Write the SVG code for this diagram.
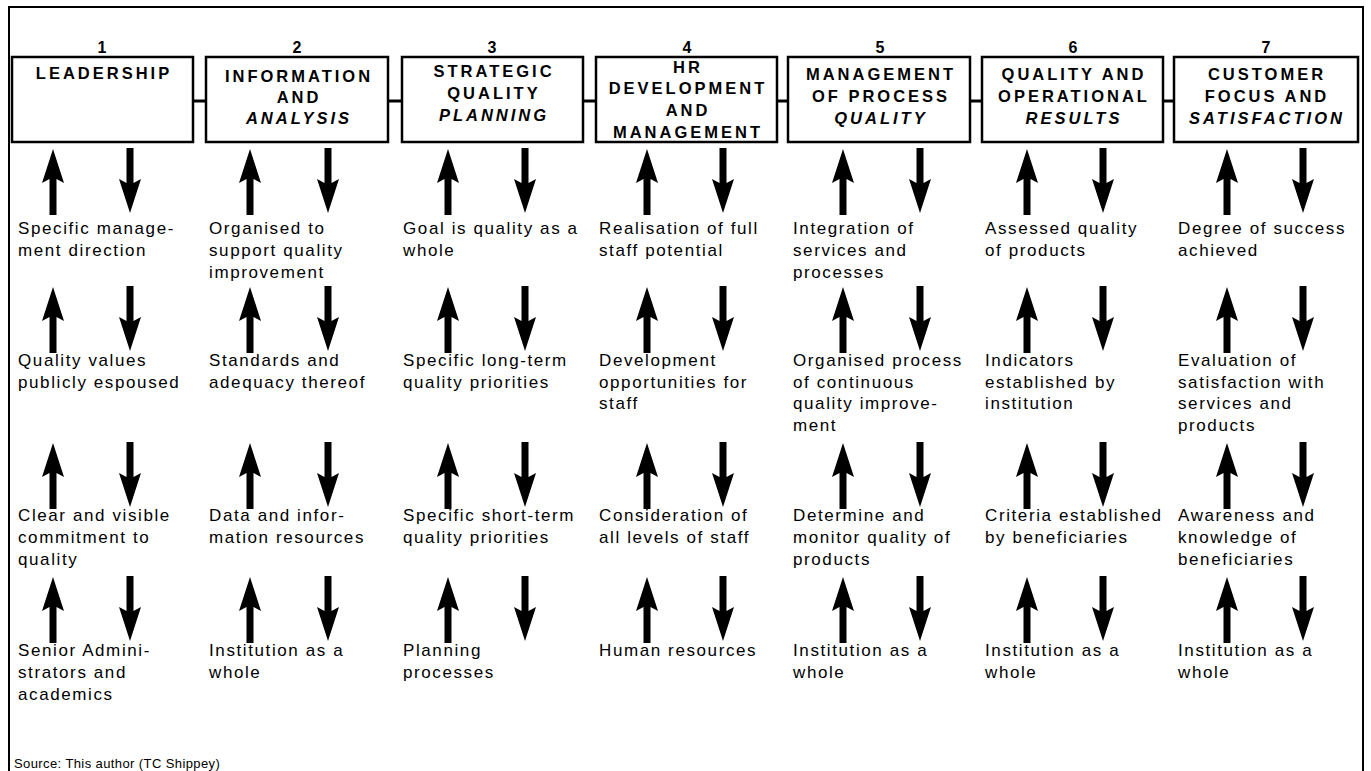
<svg xmlns="http://www.w3.org/2000/svg" xmlns:xlink="http://www.w3.org/1999/xlink" width="1371" height="771" viewBox="0 0 1371 771">
  <style>
    .frame { fill: none; stroke: #000; stroke-width: 2; }
    .box { fill: #fff; stroke: #000; stroke-width: 2.5; }
    .link { stroke: #000; stroke-width: 3; }
    .num { font-family: "Liberation Sans", Arial, sans-serif; font-weight: bold; font-size: 16px; text-anchor: middle; fill: #000; }
    .head { font-family: "Liberation Sans", Arial, sans-serif; font-weight: bold; font-size: 16.5px; letter-spacing: 3px; text-anchor: middle; fill: #000; }
    .it { font-style: italic; }
    .body { font-family: "Liberation Sans", Arial, sans-serif; font-size: 17px; letter-spacing: 1.6px; fill: #000; }
    .src { font-family: "Liberation Sans", Arial, sans-serif; font-size: 13px; letter-spacing: 0.4px; fill: #000; }
    .arr { fill: #000; }
  </style>
  <defs>
    <!-- upward arrow, tip at origin -->
    <path id="up" class="arr" d="M0,0 L11,34 L3.5,30 L3.5,66 L-3.5,66 L-3.5,30 L-11,34 Z"/>
    <!-- downward arrow, shaft top at origin -->
    <path id="down" class="arr" d="M-3.5,0 L3.5,0 L3.5,35 L11,31 L0,65 L-11,31 L-3.5,35 Z"/>
  </defs>

  <rect width="1371" height="771" fill="#fff"/>

  <!-- outer frame (open at the bottom) -->
  <path class="frame" d="M9,771 L9,7 L1363,7 L1363,771"/>

  <!-- links between the criterion boxes and the flow arrows -->
  <g id="connectors">
    <line class="link" x1="193" y1="101" x2="206" y2="101"/>
    <line class="link" x1="388" y1="101" x2="402" y2="101"/>
    <line class="link" x1="583" y1="101" x2="596" y2="101"/>
    <line class="link" x1="777" y1="101" x2="788" y2="101"/>
    <line class="link" x1="970" y1="101" x2="982" y2="101"/>
    <line class="link" x1="1163" y1="101" x2="1174" y2="101"/>

    <g id="arrows-col1">
      <use xlink:href="#up" x="53" y="149"/><use xlink:href="#down" x="130" y="148"/>
      <use xlink:href="#up" x="53" y="287"/><use xlink:href="#down" x="130" y="286"/>
      <use xlink:href="#up" x="53" y="443"/><use xlink:href="#down" x="130" y="442"/>
      <use xlink:href="#up" x="53" y="577"/><use xlink:href="#down" x="130" y="576"/>
    </g>
    <g id="arrows-col2">
      <use xlink:href="#up" x="250" y="149"/><use xlink:href="#down" x="328" y="148"/>
      <use xlink:href="#up" x="250" y="287"/><use xlink:href="#down" x="328" y="286"/>
      <use xlink:href="#up" x="250" y="443"/><use xlink:href="#down" x="328" y="442"/>
      <use xlink:href="#up" x="250" y="577"/><use xlink:href="#down" x="328" y="576"/>
    </g>
    <g id="arrows-col3">
      <use xlink:href="#up" x="448" y="149"/><use xlink:href="#down" x="525" y="148"/>
      <use xlink:href="#up" x="448" y="287"/><use xlink:href="#down" x="525" y="286"/>
      <use xlink:href="#up" x="448" y="443"/><use xlink:href="#down" x="525" y="442"/>
      <use xlink:href="#up" x="448" y="577"/><use xlink:href="#down" x="525" y="576"/>
    </g>
    <g id="arrows-col4">
      <use xlink:href="#up" x="647" y="149"/><use xlink:href="#down" x="723" y="148"/>
      <use xlink:href="#up" x="647" y="287"/><use xlink:href="#down" x="723" y="286"/>
      <use xlink:href="#up" x="647" y="443"/><use xlink:href="#down" x="723" y="442"/>
      <use xlink:href="#up" x="647" y="577"/><use xlink:href="#down" x="723" y="576"/>
    </g>
    <g id="arrows-col5">
      <use xlink:href="#up" x="843" y="149"/><use xlink:href="#down" x="920" y="148"/>
      <use xlink:href="#up" x="843" y="287"/><use xlink:href="#down" x="920" y="286"/>
      <use xlink:href="#up" x="843" y="443"/><use xlink:href="#down" x="920" y="442"/>
      <use xlink:href="#up" x="843" y="577"/><use xlink:href="#down" x="920" y="576"/>
    </g>
    <g id="arrows-col6">
      <use xlink:href="#up" x="1027" y="149"/><use xlink:href="#down" x="1103" y="148"/>
      <use xlink:href="#up" x="1027" y="287"/><use xlink:href="#down" x="1103" y="286"/>
      <use xlink:href="#up" x="1027" y="443"/><use xlink:href="#down" x="1103" y="442"/>
      <use xlink:href="#up" x="1027" y="577"/><use xlink:href="#down" x="1103" y="576"/>
    </g>
    <g id="arrows-col7">
      <use xlink:href="#up" x="1227" y="149"/><use xlink:href="#down" x="1303" y="148"/>
      <use xlink:href="#up" x="1227" y="287"/><use xlink:href="#down" x="1303" y="286"/>
      <use xlink:href="#up" x="1227" y="443"/><use xlink:href="#down" x="1303" y="442"/>
      <use xlink:href="#up" x="1227" y="577"/><use xlink:href="#down" x="1303" y="576"/>
    </g>
  </g>

  <!-- 1 Leadership -->
  <g id="leadership">
    <text class="num" x="102" y="53">1</text>
    <rect class="box" x="12" y="57" width="181" height="85"/>
    <text class="head" x="104" y="79">LEADERSHIP</text>
    <text class="body" x="18" y="234">Specific manage-<tspan x="18" y="256">ment direction</tspan></text>
    <text class="body" x="18" y="366">Quality values<tspan x="18" y="388">publicly espoused</tspan></text>
    <text class="body" x="18" y="521">Clear and visible<tspan x="18" y="543">commitment to</tspan><tspan x="18" y="565">quality</tspan></text>
    <text class="body" x="18" y="656">Senior Admini-<tspan x="18" y="678">strators and</tspan><tspan x="18" y="700">academics</tspan></text>
  </g>

  <!-- 2 Information and analysis -->
  <g id="information-analysis">
    <text class="num" x="297" y="53">2</text>
    <rect class="box" x="206" y="57" width="182" height="85"/>
    <text class="head" x="299" y="82">INFORMATION</text>
    <text class="head" x="299" y="103">AND</text>
    <text class="head it" x="299" y="124">ANALYSIS</text>
    <text class="body" x="209" y="234">Organised to<tspan x="209" y="256">support quality</tspan><tspan x="209" y="278">improvement</tspan></text>
    <text class="body" x="209" y="366">Standards and<tspan x="209" y="388">adequacy thereof</tspan></text>
    <text class="body" x="209" y="521">Data and infor-<tspan x="209" y="543">mation resources</tspan></text>
    <text class="body" x="209" y="656">Institution as a<tspan x="209" y="678">whole</tspan></text>
  </g>

  <!-- 3 Strategic quality planning -->
  <g id="strategic-planning">
    <text class="num" x="492" y="53">3</text>
    <rect class="box" x="402" y="57" width="181" height="85"/>
    <text class="head" x="494" y="77">STRATEGIC</text>
    <text class="head" x="494" y="99">QUALITY</text>
    <text class="head it" x="494" y="121">PLANNING</text>
    <text class="body" x="403" y="234">Goal is quality as a<tspan x="403" y="256">whole</tspan></text>
    <text class="body" x="403" y="366">Specific long-term<tspan x="403" y="388">quality priorities</tspan></text>
    <text class="body" x="403" y="521">Specific short-term<tspan x="403" y="543">quality priorities</tspan></text>
    <text class="body" x="403" y="656">Planning<tspan x="403" y="678">processes</tspan></text>
  </g>

  <!-- 4 HR development and management -->
  <g id="hr-development">
    <text class="num" x="687" y="53">4</text>
    <rect class="box" x="596" y="57" width="181" height="85"/>
    <text class="head" x="688" y="73">HR</text>
    <text class="head" x="688" y="94">DEVELOPMENT</text>
    <text class="head" x="688" y="116">AND</text>
    <text class="head" x="688" y="138">MANAGEMENT</text>
    <text class="body" x="599" y="234">Realisation of full<tspan x="599" y="256">staff potential</tspan></text>
    <text class="body" x="599" y="366">Development<tspan x="599" y="388">opportunities for</tspan><tspan x="599" y="409">staff</tspan></text>
    <text class="body" x="599" y="521">Consideration of<tspan x="599" y="543">all levels of staff</tspan></text>
    <text class="body" x="599" y="656">Human resources</text>
  </g>

  <!-- 5 Management of process quality -->
  <g id="process-quality">
    <text class="num" x="880" y="53">5</text>
    <rect class="box" x="788" y="57" width="182" height="85"/>
    <text class="head" x="881" y="80">MANAGEMENT</text>
    <text class="head" x="881" y="102">OF PROCESS</text>
    <text class="head it" x="881" y="124">QUALITY</text>
    <text class="body" x="793" y="234">Integration of<tspan x="793" y="256">services and</tspan><tspan x="793" y="278">processes</tspan></text>
    <text class="body" x="793" y="366">Organised process<tspan x="793" y="388">of continuous</tspan><tspan x="793" y="409">quality improve-</tspan><tspan x="793" y="431">ment</tspan></text>
    <text class="body" x="793" y="521">Determine and<tspan x="793" y="543">monitor quality of</tspan><tspan x="793" y="565">products</tspan></text>
    <text class="body" x="793" y="656">Institution as a<tspan x="793" y="678">whole</tspan></text>
  </g>

  <!-- 6 Quality and operational results -->
  <g id="operational-results">
    <text class="num" x="1073" y="53">6</text>
    <rect class="box" x="982" y="57" width="181" height="85"/>
    <text class="head" x="1074" y="80">QUALITY AND</text>
    <text class="head" x="1074" y="102">OPERATIONAL</text>
    <text class="head it" x="1074" y="124">RESULTS</text>
    <text class="body" x="985" y="234">Assessed quality<tspan x="985" y="256">of products</tspan></text>
    <text class="body" x="985" y="366">Indicators<tspan x="985" y="388">established by</tspan><tspan x="985" y="409">institution</tspan></text>
    <text class="body" x="985" y="521">Criteria established<tspan x="985" y="543">by beneficiaries</tspan></text>
    <text class="body" x="985" y="656">Institution as a<tspan x="985" y="678">whole</tspan></text>
  </g>

  <!-- 7 Customer focus and satisfaction -->
  <g id="customer-focus">
    <text class="num" x="1266" y="53">7</text>
    <rect class="box" x="1174" y="57" width="184" height="85"/>
    <text class="head" x="1267" y="80">CUSTOMER</text>
    <text class="head" x="1267" y="102">FOCUS AND</text>
    <text class="head it" x="1267" y="124">SATISFACTION</text>
    <text class="body" x="1178" y="234">Degree of success<tspan x="1178" y="256">achieved</tspan></text>
    <text class="body" x="1178" y="366">Evaluation of<tspan x="1178" y="388">satisfaction with</tspan><tspan x="1178" y="409">services and</tspan><tspan x="1178" y="431">products</tspan></text>
    <text class="body" x="1178" y="521">Awareness and<tspan x="1178" y="543">knowledge of</tspan><tspan x="1178" y="565">beneficiaries</tspan></text>
    <text class="body" x="1178" y="656">Institution as a<tspan x="1178" y="678">whole</tspan></text>
  </g>

  <text class="src" x="14" y="768">Source:  This author (TC Shippey)</text>
</svg>
